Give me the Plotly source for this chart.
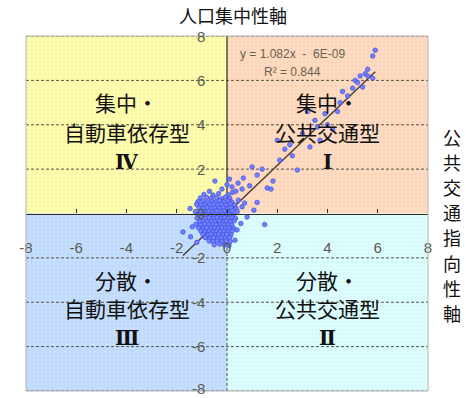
import plotly.graph_objects as go

# ---------------- data ----------------
tick_vals = [-8, -6, -4, -2, 0, 2, 4, 6, 8]
tick_text = ["-8", "-6", "-4", "-2", "0", "2", "4", "6", "8"]

# dense cluster near the origin
cluster_x = [
    -0.92, -0.56, -0.33, 0.04, 0.22,
    -1.06, -0.81, -0.63, -0.41, -0.21, -0.06, 0.11,
    -1.16, -0.96, -0.77, -0.59, -0.46, -0.29, -0.13, 0.03, 0.19,
    -1.21, -1.01, -0.87, -0.69, -0.53, -0.37, -0.21, -0.04, 0.13, 0.31,
    -1.11, -0.94, -0.79, -0.64, -0.47, -0.31, -0.14, 0.01, 0.16, 0.36,
    -1.26, -1.04, -0.89, -0.71, -0.58, -0.41, -0.26, -0.11, 0.06, 0.21, 0.41,
    -1.16, -0.97, -0.83, -0.65, -0.51, -0.34, -0.19, -0.04, 0.11, 0.26,
    -1.19, -1.02, -0.86, -0.71, -0.54, -0.39, -0.24, -0.09, 0.06, 0.21, 0.34,
    -1.09, -0.94, -0.79, -0.61, -0.48, -0.31, -0.16, -0.03, 0.14, 0.29,
    -1.24, -1.06, -0.89, -0.74, -0.56, -0.43, -0.26, -0.13, 0.04, 0.19,
    -1.13, -0.96, -0.81, -0.64, -0.49, -0.36, -0.19, -0.06, 0.09, 0.26,
    -1.04, -0.89, -0.71, -0.58, -0.41, -0.28, -0.11, 0.02, 0.21,
    -0.96, -0.77, -0.63, -0.46, -0.33, -0.16, -0.01, 0.16,
    -0.86, -0.67, -0.53, -0.36, -0.23, -0.06, 0.11,
    -0.71, -0.54, -0.39, -0.21, -0.04, 0.13,
    -0.51, -0.29, -0.09, 0.08,
]
cluster_y = [
    0.86, 0.83, 0.90, 0.84, 0.95,
    0.70, 0.73, 0.68, 0.72, 0.67, 0.74, 0.69,
    0.53, 0.57, 0.52, 0.56, 0.51, 0.58, 0.53, 0.57, 0.52,
    0.41, 0.38, 0.43, 0.39, 0.42, 0.37, 0.41, 0.38, 0.43, 0.39,
    0.26, 0.23, 0.27, 0.22, 0.26, 0.24, 0.27, 0.22, 0.26, 0.23,
    0.09, 0.12, 0.08, 0.11, 0.07, 0.12, 0.09, 0.11, 0.08, 0.12, 0.09,
    -0.04, -0.07, -0.03, -0.06, -0.04, -0.07, -0.03, -0.06, -0.04, -0.07,
    -0.21, -0.18, -0.22, -0.19, -0.21, -0.18, -0.22, -0.19, -0.21, -0.18, -0.22,
    -0.36, -0.33, -0.37, -0.34, -0.36, -0.33, -0.37, -0.34, -0.36, -0.33,
    -0.49, -0.52, -0.48, -0.51, -0.49, -0.52, -0.48, -0.51, -0.49, -0.52,
    -0.64, -0.67, -0.63, -0.66, -0.64, -0.67, -0.63, -0.66, -0.64, -0.67,
    -0.79, -0.82, -0.78, -0.81, -0.79, -0.82, -0.78, -0.81, -0.79,
    -0.94, -0.97, -0.93, -0.96, -0.94, -0.97, -0.93, -0.96,
    -1.09, -1.12, -1.08, -1.11, -1.09, -1.12, -1.08,
    -1.24, -1.27, -1.23, -1.26, -1.24, -1.27,
    -1.41, -1.38, -1.42, -1.45,
]

# scattered points around the cluster and along the trend
spread_x = [
    -1.47, -1.75, -1.38, -1.45, -1.20, 0.32, 0.40, 0.80, 0.55, 0.45,
    0.60, 1.07, 1.20, 0.70, 1.50, -0.48, 0.44, 0.20, 0.60, 0.90,
    1.20, 1.60, 1.75, 1.83, -0.20, 0.00, 0.35, -0.70, 0.10, 0.65,
    2.10, 2.60, 2.80, 2.00, 1.40, 2.30, 1.00, 3.00, 3.30, 3.50,
    3.90, 4.20, 4.50, 2.50, 3.70, 4.80, 5.00, 4.60, 5.10, 5.20,
    5.30, 5.50, 5.60, 5.80, 5.60, 5.80, 5.90, 4.00, 3.20, 4.40,
    5.40, 3.60,
]
spread_y = [
    0.22, -0.83, -0.60, -1.05, -1.30, -1.20, -0.74, -0.16, -0.45, 0.60,
    0.30, 0.15, 0.50, 0.47, -0.50, 1.46, 1.37, 1.20, 1.10, 1.25,
    1.73, 1.15, 1.10, 1.46, 1.10, 1.30, 1.00, 1.00, 1.55, 1.60,
    2.40, 2.60, 1.96, 3.30, 2.00, 2.90, 2.10, 3.60, 3.00, 4.20,
    4.50, 3.80, 5.00, 3.10, 3.30, 5.30, 5.65, 5.50, 6.00, 5.90,
    6.20, 6.30, 6.20, 6.10, 6.50, 7.10, 7.36, 4.00, 4.60, 4.60,
    5.70, 3.90,
]

slope = 1.082
intercept = -6e-09
r2 = 0.844

title_top = "人口集中性軸"
title_right = "公共交通指向性軸"
quad_labels = {
    "IV_tl": ["集中・", "自動車依存型", "Ⅳ"],
    "I_tr": ["集中・", "公共交通型", "Ⅰ"],
    "III_bl": ["分散・", "自動車依存型", "Ⅲ"],
    "II_br": ["分散・", "公共交通型", "Ⅱ"],
}

# ---------------- figure ----------------
W, H = 466, 398
L, R, T, B = 26, 38, 36, 7
lo, hi = tick_vals[0], tick_vals[-1]
PW, PH = W - L - R, H - T - B

fig = go.Figure()

quads = [
    ((lo, 0), (0, hi), "#FFFFB0", "#E6E690"),
    ((0, hi), (0, hi), "#FFDCC4", "#F0C0A0"),
    ((lo, 0), (lo, 0), "#C8E0FF", "#A8C6EE"),
    ((0, hi), (lo, 0), "#DFFFFF", "#BFEAEE"),
]
for (x0, x1), (y0, y1), col, pcol in quads:
    fig.add_trace(go.Scatter(
        x=[x0, x1, x1, x0, x0], y=[y0, y0, y1, y1, y0],
        mode="none", fill="toself", fillcolor=col,
        fillpattern=dict(shape="+", size=4, solidity=0.3, fgcolor=pcol, bgcolor=col),
        hoverinfo="skip", showlegend=False))

# dashed horizontal gridlines
for v in tick_vals:
    if v == 0:
        continue
    fig.add_trace(go.Scatter(x=[lo, hi], y=[v, v], mode="lines",
                             line=dict(color="#55554a", width=1, dash="3px,2px"),
                             hoverinfo="skip", showlegend=False))

# vertical axis line: solid above, dashed below
fig.add_trace(go.Scatter(x=[0, 0], y=[0, hi], mode="lines",
                         line=dict(color="#2e2a22", width=1.2),
                         hoverinfo="skip", showlegend=False))
fig.add_trace(go.Scatter(x=[0, 0], y=[lo, 0], mode="lines",
                         line=dict(color="#55554a", width=1, dash="3px,2px"),
                         hoverinfo="skip", showlegend=False))

# trend line over data range
all_x = cluster_x + spread_x
xmin, xmax = min(all_x), max(all_x)
fig.add_trace(go.Scatter(x=[xmin, xmax],
                         y=[slope * xmin + intercept, slope * xmax + intercept],
                         mode="lines", line=dict(color="#4a3a2a", width=1.4),
                         hoverinfo="skip", showlegend=False))

# points
fig.add_trace(go.Scatter(
    x=cluster_x + spread_x, y=cluster_y + spread_y, mode="markers",
    marker=dict(size=4.5, color="#7482ff", line=dict(color="#3a4ae0", width=0.7)),
    showlegend=False))

tick_font = dict(family="Liberation Sans, Arial, sans-serif", size=15, color="#5a5a52")

fig.update_layout(
    width=W, height=H,
    margin=dict(l=L, r=R, t=T, b=B),
    paper_bgcolor="white", plot_bgcolor="white",
    xaxis=dict(range=[lo, hi], anchor="free", position=0.5,
               showgrid=False, zeroline=False,
               showline=True, linecolor="#2e2a22", linewidth=1.2,
               ticks="inside", ticklen=4, tickcolor="#2e2a22",
               tickvals=tick_vals, ticktext=tick_text, tickfont=tick_font,
               ticklabelstandoff=20),
    yaxis=dict(range=[lo, hi], showgrid=False, zeroline=False, showline=False,
               ticks="", showticklabels=False),
)

# plot frame
fig.add_shape(type="rect", xref="paper", yref="paper", x0=0, x1=1, y0=0, y1=1,
              line=dict(color="#b4b4b4", width=1), layer="above")

cjk = "Noto Sans CJK JP, sans-serif"
ann = []

# y tick labels, to the left of the vertical axis
for v, t in zip(tick_vals, tick_text):
    ann.append(dict(text=t, x=0, y=v, xref="x", yref="y", showarrow=False,
                    xanchor="right", yanchor="middle", xshift=-20,
                    yshift=3 if v == lo else 0, font=tick_font))

ann.append(dict(text=title_top, xref="paper", yref="paper", x=(233 - L) / PW,
                y=1 + (T - 15) / PH, xanchor="center", yanchor="middle",
                showarrow=False, font=dict(family=cjk, size=18, color="#111111")))
# vertical right title, one character per row
for i, ch in enumerate(title_right):
    ann.append(dict(text=ch, xref="paper", yref="paper",
                    x=1 + (452 - (W - R)) / PW, y=(H - B - (137 + 25.1 * i)) / PH,
                    xanchor="center", yanchor="middle", showarrow=False,
                    font=dict(family=cjk, size=18, color="#111111")))

line_y_top = [5.02, 3.67, 2.33]
line_y_bot = [-3.0, -4.25, -5.6]
for key, cx, ys in [("IV_tl", -4, line_y_top), ("I_tr", 4, line_y_top),
                    ("III_bl", -4, line_y_bot), ("II_br", 4, line_y_bot)]:
    for i, (txt, yy) in enumerate(zip(quad_labels[key], ys)):
        if i == 2:
            f = dict(family="DejaVu Serif, Liberation Serif, serif", size=20,
                     color="#111111", weight="bold")
        else:
            f = dict(family=cjk, size=21, color="#111111")
        ann.append(dict(text=txt, x=cx, y=yy, xref="x", yref="y", showarrow=False,
                        xanchor="center", yanchor="middle", font=f))

eq_font = dict(family="Liberation Sans, Arial, sans-serif", size=12, color="#6a6250")
ann.append(dict(text=f"y = {slope}x  -  6E-09", x=2.59, y=7.18, xref="x", yref="y",
                showarrow=False, xanchor="center", yanchor="middle", font=eq_font))
ann.append(dict(text=f"R² = {r2}", x=2.59, y=6.37, xref="x", yref="y",
                showarrow=False, xanchor="center", yanchor="middle", font=eq_font))

fig.update_layout(annotations=ann)

fig.write_html("out.html")
